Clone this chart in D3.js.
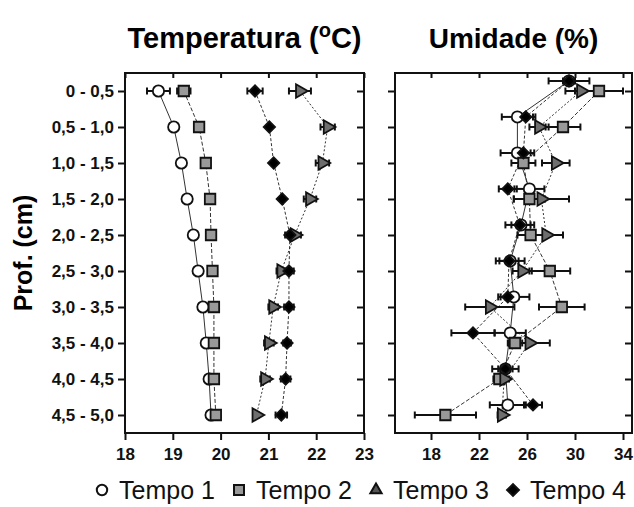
<!DOCTYPE html>
<html lang="pt">
<head>
<meta charset="utf-8">
<title>Temperatura e Umidade</title>
<script src="https://cdn.jsdelivr.net/npm/d3@7"></script>
<style>
  body { margin: 0; background: #fff; }
  svg { display: block; font-family: "Liberation Sans", Arial, sans-serif; }
  .tick text { font-weight: bold; font-size: 17px; fill: #111; }
</style>
</head>
<body>
<script>
// depth classes (rows)
var depths = ["0 - 0,5", "0,5 - 1,0", "1,0 - 1,5", "1,5 - 2,0", "2,0 - 2,5",
              "2,5 - 3,0", "3,0 - 3,5", "3,5 - 4,0", "4,0 - 4,5", "4,5 - 5,0"];

var seriesNames = ["Tempo 1", "Tempo 2", "Tempo 3", "Tempo 4"];

// temperature (oC), mean and error
var temp1 = [18.70, 19.02, 19.18, 19.30, 19.43, 19.53, 19.63, 19.70, 19.76, 19.80];
var temp1Err = [0.24, 0.03, 0.03, 0.03, 0.03, 0.03, 0.03, 0.03, 0.03, 0.03];
var temp2 = [19.23, 19.55, 19.69, 19.78, 19.80, 19.83, 19.86, 19.86, 19.86, 19.90];
var temp2Err = [0.14, 0.05, 0.04, 0.04, 0.04, 0.04, 0.04, 0.04, 0.04, 0.05];
var temp3 = [21.66, 22.24, 22.13, 21.87, 21.55, 21.27, 21.10, 21.01, 20.93, 20.75];
var temp3Err = [0.23, 0.15, 0.14, 0.13, 0.13, 0.10, 0.10, 0.10, 0.10, 0.05];
var temp4 = [20.72, 21.02, 21.11, 21.29, 21.45, 21.43, 21.43, 21.39, 21.36, 21.27];
var temp4Err = [0.16, 0.03, 0.03, 0.03, 0.10, 0.10, 0.10, 0.08, 0.10, 0.12];

// humidity (%), mean and error
var umid1 = [29.5, 25.2, 25.2, 26.2, 25.5, 24.6, 24.9, 24.6, 24.2, 24.4];
var umid1Err = [0.5, 1.3, 1.4, 1.25, 0.8, 1.2, 1.3, 1.3, 0.6, 1.5];
var umid2 = [32.0, 29.0, 25.7, 26.2, 26.3, 27.9, 28.9, 25.0, 23.7, 19.2];
var umid2Err = [2.0, 1.45, 1.0, 1.3, 1.1, 1.7, 1.9, 0.6, 0.5, 2.55];
var umid3 = [30.5, 27.0, 28.4, 27.2, 27.6, 25.6, 22.9, 26.2, 24.1, 23.9];
var umid3Err = [1.3, 0.8, 1.15, 2.3, 1.4, 0.8, 2.05, 1.7, 0.4, 0.35];
var umid4 = [29.5, 25.9, 25.7, 24.4, 25.4, 24.5, 24.4, 21.5, 24.2, 26.5];
var umid4Err = [1.7, 0.8, 0.6, 0.75, 1.2, 0.8, 0.6, 1.8, 1.1, 0.75];

var tempTicks = [18, 19, 20, 21, 22, 23];
var umidTicks = [18, 22, 26, 30, 34];

var w = 634, h = 507;
var plotTop = 73, plotBottom = 433;

var svg = d3.select("body").append("svg")
    .attr("width", w)
    .attr("height", h);

var y = d3.scalePoint().domain(depths).range([plotTop, plotBottom]).padding(0.5);

// style of every series
var styles = [
    { shape: d3.symbolCircle, size: 100, fill: "#fff", dash: null, rot: 0 },
    { shape: d3.symbolSquare, size: 110, fill: "#999", dash: "4,2", rot: 0 },
    { shape: d3.symbolTriangle, size: 80, fill: "#6e6e6e", dash: "2,2", rot: 90 },
    { shape: d3.symbolSquare, size: 64, fill: "#000", dash: "3,2", rot: 45 }
];
var legendSizes = [85, 100, 55, 70];

function build(means, errs) {
    return means.map(function(m, i) {
        return depths.map(function(d, j) { return { depth: d, v: m[j], e: errs[i][j] }; });
    });
}

var tempData = build([temp1, temp2, temp3, temp4], [temp1Err, temp2Err, temp3Err, temp4Err]);
var umidData = build([umid1, umid2, umid3, umid4], [umid1Err, umid2Err, umid3Err, umid4Err]);

function drawPanel(data, x, ticks, offsets, showY) {
    var x0 = x.range()[0], x1 = x.range()[1];
    var g = svg.append("g");

    // bottom axis
    g.append("g")
        .attr("transform", "translate(0," + plotBottom + ")")
        .call(d3.axisBottom(x).tickValues(ticks).tickFormat(d3.format("d"))
            .tickSize(7).tickPadding(8).tickSizeOuter(0))
        .call(function(a) { a.select(".domain").remove(); });
    // top ticks pointing in
    g.append("g")
        .attr("transform", "translate(0," + plotTop + ")")
        .call(d3.axisBottom(x).tickValues(ticks).tickSize(5).tickFormat(""))
        .call(function(a) { a.select(".domain").remove(); });
    // left axis
    var la = d3.axisLeft(y).tickSize(7).tickPadding(4);
    if (!showY) la.tickFormat("");
    g.append("g")
        .attr("transform", "translate(" + x0 + ",0)")
        .call(la)
        .call(function(a) { a.select(".domain").remove(); });
    // right ticks pointing in
    g.append("g")
        .attr("transform", "translate(" + x1 + ",0)")
        .call(d3.axisRight(y).tickSize(-7).tickFormat(""))
        .call(function(a) { a.select(".domain").remove(); });

    g.selectAll(".tick line").attr("stroke", "#111").attr("stroke-width", 2);

    g.append("rect")
        .attr("x", x0).attr("y", plotTop)
        .attr("width", x1 - x0).attr("height", plotBottom - plotTop)
        .attr("fill", "none").attr("stroke", "#111").attr("stroke-width", 2);

    function yy(d, s) { return y(d.depth) + offsets[s] * y.step(); }

    // connecting lines
    data.forEach(function(series, s) {
        var line = d3.line().x(function(d) { return x(d.v); }).y(function(d) { return yy(d, s); });
        g.append("path")
            .datum(series)
            .attr("d", line)
            .attr("fill", "none")
            .attr("stroke", "#333")
            .attr("stroke-width", 1)
            .attr("stroke-dasharray", styles[s].dash);
    });

    // error bars
    data.forEach(function(series, s) {
        var eb = g.append("g").selectAll("g").data(series).enter().append("g");
        eb.append("line")
            .attr("x1", function(d) { return x(d.v - d.e); })
            .attr("x2", function(d) { return x(d.v + d.e); })
            .attr("y1", function(d) { return yy(d, s); })
            .attr("y2", function(d) { return yy(d, s); })
            .attr("stroke", "#111").attr("stroke-width", 2);
        [-1, 1].forEach(function(sign) {
            eb.append("line")
                .attr("x1", function(d) { return x(d.v + sign * d.e); })
                .attr("x2", function(d) { return x(d.v + sign * d.e); })
                .attr("y1", function(d) { return yy(d, s) - 3.5; })
                .attr("y2", function(d) { return yy(d, s) + 3.5; })
                .attr("stroke", "#111").attr("stroke-width", 2);
        });
    });

    // markers
    data.forEach(function(series, s) {
        var st = styles[s];
        g.append("g").selectAll("path").data(series).enter().append("path")
            .attr("d", d3.symbol().type(st.shape).size(st.size))
            .attr("transform", function(d) {
                return "translate(" + x(d.v) + "," + yy(d, s) + ") rotate(" + st.rot + ")";
            })
            .attr("fill", st.fill)
            .attr("stroke", "#111")
            .attr("stroke-width", 1.8);
    });
}

var xTemp = d3.scaleLinear().domain([18, 23]).range([125, 364]);
var xUmid = d3.scaleLinear().domain([15, 34.75]).range([395, 632]);

drawPanel(tempData, xTemp, tempTicks, [0, 0, 0, 0], true);
drawPanel(umidData, xUmid, umidTicks, [-0.28, 0, 0, -0.28], false);

// titles
var t1 = svg.append("text")
    .attr("x", (xTemp.range()[0] + xTemp.range()[1]) / 2)
    .attr("y", 48)
    .attr("text-anchor", "middle")
    .attr("font-size", 29).attr("font-weight", "bold");
t1.append("tspan").text("Temperatura (");
t1.append("tspan").attr("font-size", 20).attr("dy", -11).text("o");
t1.append("tspan").attr("dy", 11).text("C)");

svg.append("text")
    .attr("x", (xUmid.range()[0] + xUmid.range()[1]) / 2)
    .attr("y", 48)
    .attr("text-anchor", "middle")
    .attr("font-size", 28).attr("font-weight", "bold")
    .text("Umidade (%)");

// y axis label
svg.append("text")
    .attr("transform", "translate(32," + ((plotTop + plotBottom) / 2) + ") rotate(-90)")
    .attr("text-anchor", "middle")
    .attr("font-size", 25).attr("font-weight", "bold")
    .text("Prof. (cm)");

// legend
var legend = svg.append("g").selectAll("g").data(seriesNames).enter().append("g")
    .attr("transform", function(d, i) { return "translate(" + (102 + i * 137) + ",490)"; });

legend.append("path")
    .attr("d", function(d, i) {
        return d3.symbol().type(styles[i].shape).size(legendSizes[i])();
    })
    .attr("transform", function(d, i) { return i == 3 ? "rotate(45)" : null; })
    .attr("fill", function(d, i) { return i == 2 ? "#555" : styles[i].fill; })
    .attr("stroke", "#111")
    .attr("stroke-width", 2);

legend.append("text")
    .attr("x", 17)
    .attr("y", 9)
    .attr("font-size", 25)
    .attr("fill", "#111")
    .text(function(d) { return d; });
</script>
</body>
</html>
